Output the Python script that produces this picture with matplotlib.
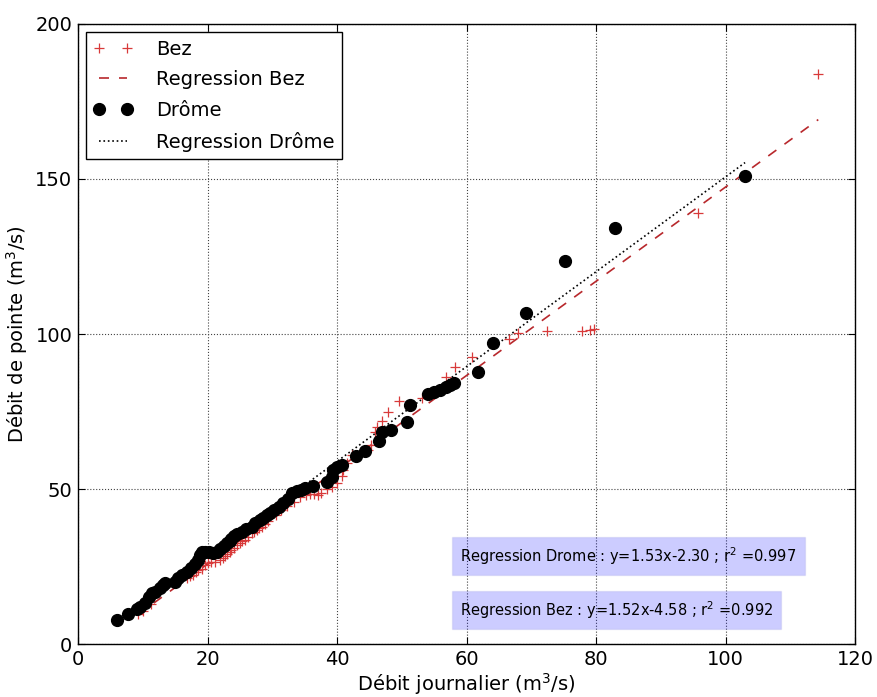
import matplotlib
matplotlib.use("Agg")
import matplotlib.pyplot as plt
import numpy as np

# Débits journaliers / débits de pointe (m3/s)
drome_x = [6.0, 7.7, 9.1, 9.6, 10.3, 10.9, 11.4, 11.9, 12.7, 13.2, 13.5, 15.0, 15.5, 16.0,
           16.8, 17.4, 18.1, 18.5, 18.8, 19.2, 19.6, 20.2, 20.8, 21.4, 22.0, 22.6, 23.0,
           23.4, 23.7, 24.1, 24.5, 25.3, 26.0, 26.8, 27.3, 28.1, 28.6, 29.2, 29.7, 30.2,
           31.0, 31.7, 32.4, 33.0, 33.8, 34.4, 35.1, 36.3, 38.4, 39.2, 39.4, 40.0, 40.7,
           43.0, 44.3, 46.5, 46.9, 48.4, 50.8, 51.3, 54.0, 55.0, 55.9, 56.9, 57.4, 58.0,
           61.8, 64.1, 69.1, 75.2, 82.9, 103.0]
drome_y = [7.6, 9.7, 11.2, 12.0, 13.3, 15.3, 16.4, 16.9, 18.0, 19.0, 19.6, 20.1, 21.2, 22.3,
           23.3, 24.6, 25.8, 27.2, 28.8, 29.6, 29.8, 29.6, 29.5, 29.8, 30.6, 31.6, 32.5,
           33.2, 33.8, 34.8, 35.5, 36.2, 37.0, 37.8, 38.9, 40.0, 40.8, 41.5, 42.2, 43.2,
           44.2, 45.4, 46.8, 48.6, 49.2, 49.7, 50.2, 51.0, 52.4, 54.0, 56.1, 57.2, 57.7,
           60.6, 62.4, 65.6, 68.4, 69.0, 71.7, 77.1, 80.6, 81.3, 82.0, 82.8, 83.5, 84.1,
           87.6, 97.2, 106.7, 123.6, 134.1, 151.0]

bez_x = [9.2, 10.0, 11.2, 16.8, 17.3, 17.8, 18.3, 18.6, 19.1, 19.6, 20.1, 20.6, 21.2, 21.9,
         22.4, 22.7, 23.0, 23.4, 23.7, 24.1, 24.5, 25.0, 25.4, 25.8, 26.3, 26.8, 27.2,
         27.6, 28.0, 28.4, 28.9, 29.4, 30.5, 31.4, 32.3, 33.3, 34.3, 35.2, 35.8, 36.5,
         37.1, 37.6, 38.4, 39.2, 40.0, 40.7, 40.9, 41.5, 42.3, 44.8, 45.2, 45.9, 46.1,
         46.9, 47.8, 49.5, 53.1, 56.9, 58.2, 60.9, 66.5, 68.0, 72.4, 77.8, 79.1, 79.6,
         95.8, 114.3]
bez_y = [9.8, 10.5, 13.0, 21.2, 22.0, 22.4, 23.2, 23.9, 24.3, 25.5, 26.0, 26.5, 26.6, 27.1,
         27.6, 28.4, 29.2, 29.8, 30.3, 31.0, 31.9, 32.7, 33.2, 33.5, 34.6, 35.7, 36.2,
         36.8, 37.3, 37.8, 38.7, 39.6, 41.6, 43.1, 44.6, 45.9, 47.3, 48.2, 48.4, 48.3,
         48.1, 48.6, 49.9, 50.8, 51.8, 54.2, 56.1, 58.3, 61.0, 62.6, 64.2, 68.5, 70.1,
         71.8, 75.0, 78.5, 79.3, 86.0, 89.3, 92.7, 98.5, 100.3, 101.0, 101.0, 101.3, 101.6,
         139.1, 183.9]

# Coefficients des régressions linéaires
drome_slope, drome_intercept, drome_r2 = 1.53, -2.30, 0.997
bez_slope, bez_intercept, bez_r2 = 1.52, -4.58, 0.992

x_ticks = [0, 20, 40, 60, 80, 100, 120]
y_ticks = [0, 50, 100, 150, 200]

fig = plt.figure(figsize=(8.78, 6.97), dpi=100, facecolor="white")
ax = fig.add_axes([0.0888, 0.076, 0.8852, 0.8896])

bx = np.array([min(bez_x), max(bez_x)])
dx = np.array([min(drome_x), max(drome_x)])

ax.plot(bez_x, bez_y, "+", color="#d83a3a", markersize=7, markeredgewidth=0.9,
        label="Bez", zorder=3)
ax.plot(bx, bez_slope * bx + bez_intercept, "--", color="#b8282c", linewidth=1.2,
        dashes=(6, 6), label="Regression Bez", zorder=2)
ax.plot(drome_x, drome_y, "o", color="black", markersize=8.5, label="Drôme", zorder=4)
ax.plot(dx, drome_slope * dx + drome_intercept, ":", color="black", linewidth=1.2,
        label="Regression Drôme", zorder=2)

ax.set_xlim(0, 120)
ax.set_ylim(0, 200)
ax.set_xticks(x_ticks)
ax.set_yticks(y_ticks)
ax.tick_params(direction="in", top=True, right=True, labelsize=14, length=5, pad=4)
ax.grid(True, linestyle=":", color="#444444", linewidth=0.8)
ax.set_axisbelow(True)
for s in ax.spines.values():
    s.set_linewidth(1.0)

ax.set_xlabel("Débit journalier (m$^3$/s)", fontsize=14, labelpad=2)
ax.set_ylabel("Débit de pointe (m$^3$/s)", fontsize=14, labelpad=4)

leg = ax.legend(loc="upper left", numpoints=2, fontsize=14, fancybox=False,
                edgecolor="black", framealpha=1, labelspacing=0.6,
                borderaxespad=0.4, handlelength=2.0, handletextpad=1.2)
leg.get_frame().set_linewidth(1.0)

box = dict(facecolor="blue", alpha=0.2, edgecolor="#9999dd", pad=6)
ax.text(59.0, 28.4,
        f"Regression Drome : y={drome_slope:.2f}x{drome_intercept:.2f} ; r$^2$ ={drome_r2:.3f}",
        fontsize=10.5, va="center", ha="left", bbox=box)
ax.text(59.0, 11.0,
        f"Regression Bez : y={bez_slope:.2f}x{bez_intercept:.2f} ; r$^2$ ={bez_r2:.3f}",
        fontsize=10.5, va="center", ha="left", bbox=box)

fig.savefig("out.png", dpi=100, facecolor="white")
